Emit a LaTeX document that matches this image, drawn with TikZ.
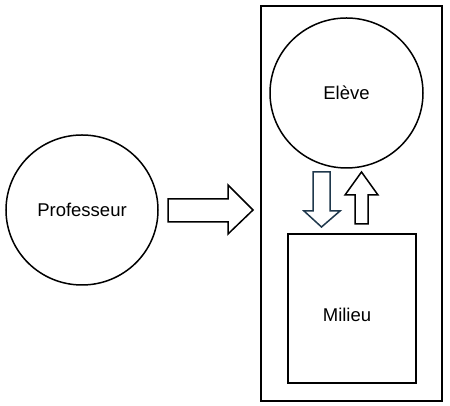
\documentclass[tikz,border=0pt]{standalone}
\usepackage{fontspec}
\setmainfont{Liberation Sans}
\usetikzlibrary{shapes.geometric}
\definecolor{darkslate}{RGB}{31,56,76}
\tikzset{
  shapeline/.style={draw=black, line width=1.5pt},
  lbl/.style={font=\fontsize{18.5}{20}\selectfont, inner sep=0pt},
  blockarrow/.style={draw=black, line width=1.5pt, fill=white, line join=miter},
}
\begin{document}
\begin{tikzpicture}[x=1pt,y=1pt]
\useasboundingbox (0,0) rectangle (450,406);
% outer rectangle
\node[shapeline, rectangle, minimum width=181pt, minimum height=395pt, inner sep=0pt] (box) at (351.5,202.5) {};
% Professeur
\node[shapeline, ellipse, minimum width=152pt, minimum height=150pt, inner sep=0pt] (prof) at (82,196) {};
\node[lbl] (proftext) at (82,196) {Professeur};
% Eleve
\node[shapeline, ellipse, minimum width=153pt, minimum height=150pt, inner sep=0pt] (eleve) at (346.5,313) {};
\node[lbl] (elevetext) at (346.5,313) {Elève};
% Milieu
\node[shapeline, rectangle, minimum width=128pt, minimum height=149pt, inner sep=0pt] (milieu) at (352,97.5) {};
\node[lbl] (milieutext) at (347,91) {Milieu};
% right block arrow
\draw[blockarrow] (168,207) -- (228,207) -- (228,221) -- (253,196) -- (228,172) -- (228,184) -- (168,184) -- cycle;
% down block arrow
\draw[blockarrow, draw=darkslate] (313,234) -- (330,234) -- (330,195) -- (340,195) -- (321.5,179) -- (304,195) -- (313,195) -- cycle;
% up block arrow
\draw[blockarrow] (355,182) -- (368,182) -- (368,211) -- (378,211) -- (361.5,234) -- (345,211) -- (355,211) -- cycle;
\end{tikzpicture}
\end{document}
